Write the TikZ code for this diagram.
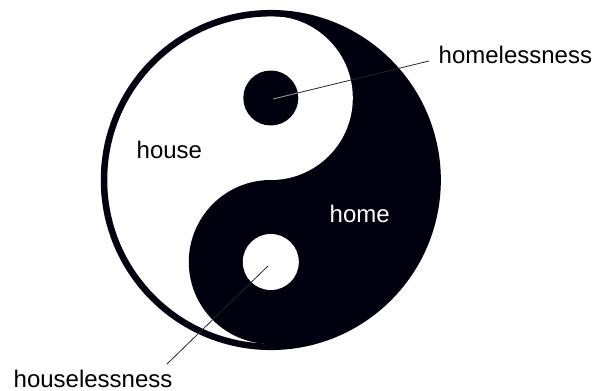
\documentclass[tikz,border=0pt]{standalone}
\usepackage{fontspec}
\setmainfont{Liberation Sans}
\begin{document}
\begin{tikzpicture}[x=1pt,y=-1pt,
  lbl/.style={inner sep=0pt,anchor=base west,font=\fontsize{24}{28}\selectfont},
  leader/.style={draw=black!85,line width=0.8pt},
  ink/.style={fill=black!94!blue}]
\useasboundingbox (0,0) rectangle (595,391);
\coordinate (C) at (270.8,180);
\coordinate (up) at (270.8,98);
\coordinate (lo) at (270.8,262);
% black right half
\begin{scope}
  \clip (270.8,0) rectangle (595,391);
  \fill[ink] (C) circle (166);
\end{scope}
% lower black lobe
\fill[ink] (lo) circle (82);
% upper white lobe
\fill[white] (up) circle (82);
% dots
\fill[ink] (up) circle (27.5);
\fill[white] (lo) circle (28);
% outer ring
\draw[black!94!blue,line width=6.5pt] (C) circle (166.8);
% labels
\node[lbl] (homelessness) at (438.5,63) {homelessness};
\node[lbl] (house) at (136.5,158) {house};
\node[lbl,text=white] (home) at (329.5,222) {home};
\node[lbl] (houselessness) at (13.5,387) {houselessness};
% leader lines
\coordinate (bdot) at (273,99);
\coordinate (wdot) at (268,266);
\coordinate (hmend) at (429,61);
\coordinate (hsend) at (167,364);
\draw[leader] (bdot) -- (hmend);
\begin{scope}
  \clip (up) circle (27.5);
  \draw[leader,draw=black!40] (bdot) -- (hmend);
\end{scope}
\draw[leader] (wdot) -- (hsend);
\end{tikzpicture}
\end{document}
